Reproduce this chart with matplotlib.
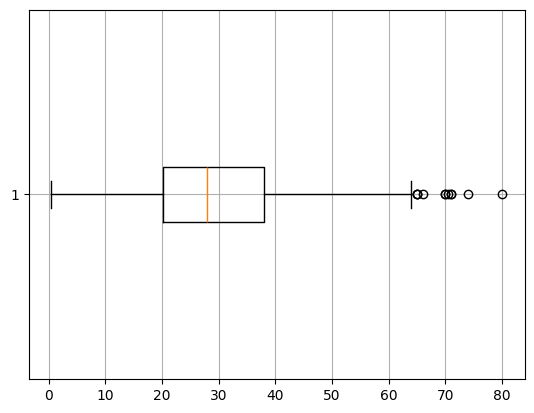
import matplotlib
matplotlib.use("Agg")
import matplotlib.pyplot as plt

# box statistics (ages)
q1 = 20.125
median = 28.0
q3 = 38.0
whislo = 0.42
whishi = 64.0
fliers = [65.0, 65.0, 65.0, 66.0, 70.0, 70.0, 70.5, 71.0, 71.0, 74.0, 80.0]
labels = ["1"]

stats = [dict(med=median, q1=q1, q3=q3, whislo=whislo, whishi=whishi,
              fliers=fliers, label=labels[0])]

fig, ax = plt.subplots(figsize=(6.4, 4.8), dpi=100)
ax.bxp(stats, vert=False)
ax.grid(True)
ax.set_xticks(range(0, 81, 10))
plt.savefig("out.png", bbox_inches="tight")
